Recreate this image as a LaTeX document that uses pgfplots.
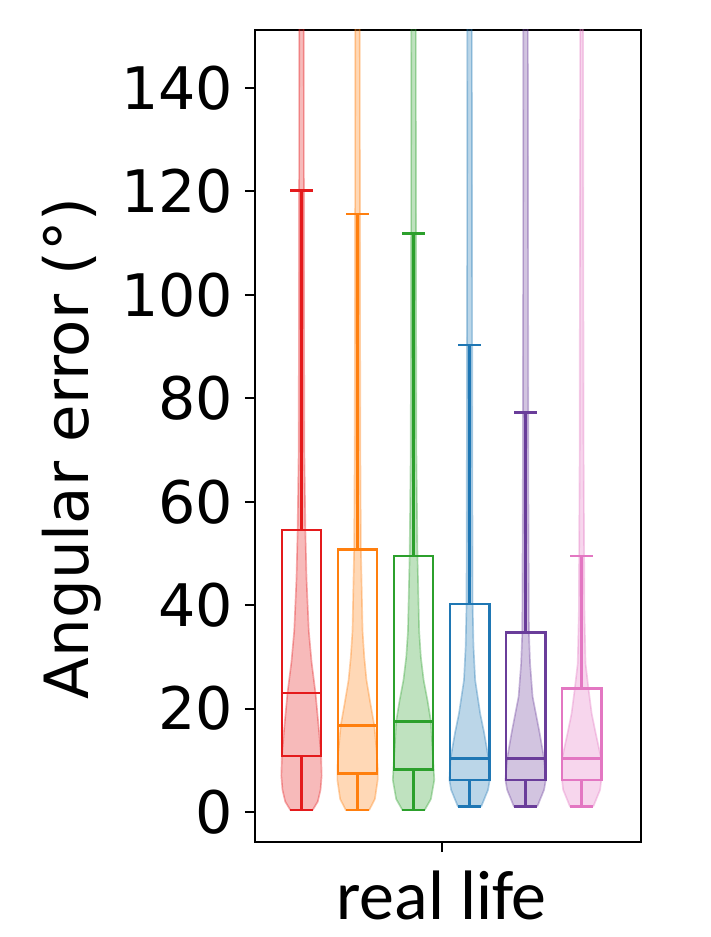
\documentclass[border=0pt]{standalone}
\usepackage{fontspec}
\setmainfont{DejaVu Sans}
\newfontfamily\carlito{Carlito}
\usepackage{pgfplots}
\usepackage{pgfplotstable}
\pgfplotsset{compat=1.18}
\usepgfplotslibrary{statistics}

\definecolor{cred}{HTML}{E41A1C}
\definecolor{corange}{HTML}{FF7F0E}
\definecolor{cgreen}{HTML}{2CA02C}
\definecolor{cblue}{HTML}{1F77B4}
\definecolor{cpurple}{HTML}{6A3D9A}
\definecolor{cpink}{HTML}{E377C2}

% violin outlines: dx = horizontal offset from the centre, y = angular error
\pgfplotstableread{
dx y
0.20 0.4
0.29 2.0
0.34 4.3
0.36 7.0
0.35 10.8
0.31 16
0.25 23
0.18 29
0.13 35
0.09 45
0.07 54
0.05 70
0.045 100
0.04 160
-0.04 160
-0.045 100
-0.05 70
-0.07 54
-0.09 45
-0.13 35
-0.18 29
-0.25 23
-0.31 16
-0.35 10.8
-0.36 7.0
-0.34 4.3
-0.29 2.0
-0.20 0.4
0.20 0.4
}\vred

\pgfplotstableread{
dx y
0.21 0.4
0.31 2.5
0.36 6.2
0.36 8.5
0.34 12
0.30 16.7
0.23 21
0.16 25.5
0.12 30
0.09 35
0.06 51
0.05 70
0.045 100
0.04 160
-0.04 160
-0.045 100
-0.05 70
-0.06 51
-0.09 35
-0.12 30
-0.16 25.5
-0.23 21
-0.30 16.7
-0.34 12
-0.36 8.5
-0.36 6.2
-0.31 2.5
-0.21 0.4
0.21 0.4
}\vorange

\pgfplotstableread{
dx y
0.20 0.4
0.31 2.5
0.37 6.2
0.35 10
0.31 17.5
0.25 21.5
0.18 25.5
0.13 30
0.10 35
0.07 49.5
0.05 70
0.045 100
0.04 160
-0.04 160
-0.045 100
-0.05 70
-0.07 49.5
-0.10 35
-0.13 30
-0.18 25.5
-0.25 21.5
-0.31 17.5
-0.35 10
-0.37 6.2
-0.31 2.5
-0.20 0.4
0.20 0.4
}\vgreen

\pgfplotstableread{
dx y
0.21 1.1
0.33 4.3
0.36 6.2
0.34 10.3
0.26 15.3
0.19 19
0.10 25.5
0.07 32
0.055 40
0.05 60
0.045 100
0.04 160
-0.04 160
-0.045 100
-0.05 60
-0.055 40
-0.07 32
-0.10 25.5
-0.19 19
-0.26 15.3
-0.34 10.3
-0.36 6.2
-0.33 4.3
-0.21 1.1
0.21 1.1
}\vblue

\pgfplotstableread{
dx y
0.21 1.1
0.33 4.3
0.36 6.2
0.33 10.3
0.25 15.3
0.125 22.3
0.08 28.7
0.06 34.5
0.05 60
0.045 100
0.04 160
-0.04 160
-0.045 100
-0.05 60
-0.06 34.5
-0.08 28.7
-0.125 22.3
-0.25 15.3
-0.33 10.3
-0.36 6.2
-0.33 4.3
-0.21 1.1
0.21 1.1
}\vpurple

\pgfplotstableread{
dx y
0.21 1.1
0.33 4.3
0.35 6.2
0.35 10.3
0.25 15.3
0.18 19
0.125 23.6
0.07 28.7
0.05 38.4
0.035 70
0.03 110
0.025 160
-0.025 160
-0.03 110
-0.035 70
-0.05 38.4
-0.07 28.7
-0.125 23.6
-0.18 19
-0.25 15.3
-0.35 10.3
-0.35 6.2
-0.33 4.3
-0.21 1.1
0.21 1.1
}\vpink

\pgfplotsset{
  violin/.style={fill=#1, draw=#1, fill opacity=0.3, draw opacity=0.35, line width=0.5pt},
  bx/.style={draw=#1, line width=0.8pt, solid, mark=none},
}

\begin{document}
\begin{tikzpicture}
\begin{axis}[
    scale only axis,
    width=115.8pt, height=243.6pt,
    xmin=-3.33, xmax=3.56,
    ymin=-5.8, ymax=151.2,
    boxplot/draw direction=y,
    xtick={0}, xticklabels={real life},
    ytick={0,20,...,140},
    xtick pos=bottom, ytick pos=left,
    tick align=outside,
    major tick length=3pt,
    tick style={black, line width=0.6pt},
    axis line style={line width=0.6pt},
    /pgf/number format/assume math mode=true,
    yticklabel style={font=\fontsize{17.6}{17.6}\selectfont},
    xticklabel style={font=\carlito\fontsize{21}{21}\selectfont, yshift=-2pt},
    ylabel={Angular error (°)},
    ylabel style={at={(axis description cs:-0.474,0.485)}, anchor=center,
                  font=\fontsize{18.3}{18.3}\selectfont},
]
\addplot[violin=cred]    table[x expr=-2.5+\thisrow{dx}, y=y] {\vred};
\addplot[violin=corange] table[x expr=-1.5+\thisrow{dx}, y=y] {\vorange};
\addplot[violin=cgreen]  table[x expr=-0.5+\thisrow{dx}, y=y] {\vgreen};
\addplot[violin=cblue]   table[x expr=0.5+\thisrow{dx},  y=y] {\vblue};
\addplot[violin=cpurple] table[x expr=1.5+\thisrow{dx},  y=y] {\vpurple};
\addplot[violin=cpink]   table[x expr=2.5+\thisrow{dx},  y=y] {\vpink};

\addplot[bx=cred, boxplot prepared={draw position=-2.5, lower whisker=0.4,
  lower quartile=10.8, median=23.0, upper quartile=54.5, upper whisker=120.2,
  box extend=0.7, whisker extend=0.4}] coordinates {};
\addplot[bx=corange, boxplot prepared={draw position=-1.5, lower whisker=0.4,
  lower quartile=7.5, median=16.7, upper quartile=50.8, upper whisker=115.6,
  box extend=0.7, whisker extend=0.4}] coordinates {};
\addplot[bx=cgreen, boxplot prepared={draw position=-0.5, lower whisker=0.4,
  lower quartile=8.2, median=17.5, upper quartile=49.5, upper whisker=111.8,
  box extend=0.7, whisker extend=0.4}] coordinates {};
\addplot[bx=cblue, boxplot prepared={draw position=0.5, lower whisker=1.1,
  lower quartile=6.2, median=10.3, upper quartile=40.2, upper whisker=90.3,
  box extend=0.7, whisker extend=0.4}] coordinates {};
\addplot[bx=cpurple, boxplot prepared={draw position=1.5, lower whisker=1.1,
  lower quartile=6.2, median=10.3, upper quartile=34.7, upper whisker=77.2,
  box extend=0.7, whisker extend=0.4}] coordinates {};
\addplot[bx=cpink, boxplot prepared={draw position=2.5, lower whisker=1.1,
  lower quartile=6.2, median=10.3, upper quartile=23.9, upper whisker=49.5,
  box extend=0.7, whisker extend=0.4}] coordinates {};

\coordinate (bl) at (rel axis cs:0,0);
\coordinate (tr) at (rel axis cs:1,1);
\end{axis}
\pgfresetboundingbox
\path ([xshift=-76.5pt,yshift=-28.5pt]bl) rectangle ([xshift=20.7pt,yshift=9pt]tr);
\end{tikzpicture}
\end{document}
